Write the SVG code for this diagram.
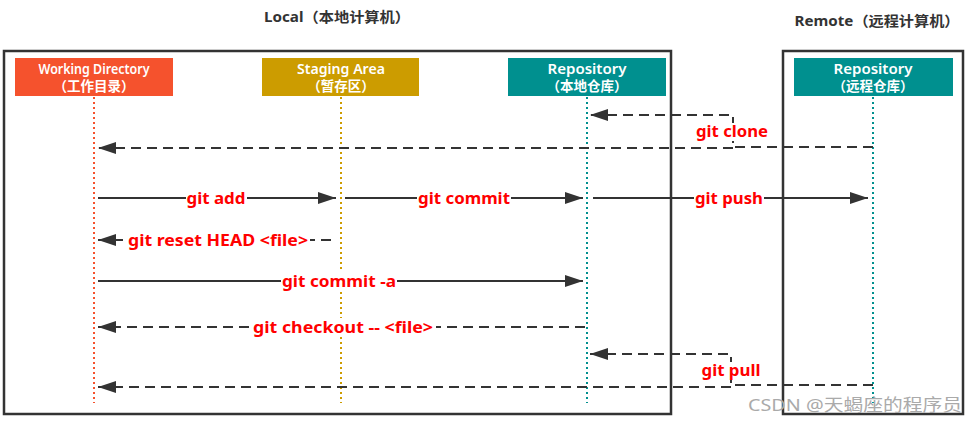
<svg xmlns="http://www.w3.org/2000/svg" width="975" height="427" viewBox="0 0 975 427">
<style>
.title{font-family:"Noto Sans","Noto Sans CJK SC",sans-serif;font-size:14px;font-weight:bold;fill:#333;text-anchor:middle}
.nt{font-family:"Noto Sans","Noto Sans CJK SC",sans-serif;font-size:13.5px;font-weight:600;fill:#fff;text-anchor:middle}
.lbl{font-family:"Noto Sans","Noto Sans CJK SC",sans-serif;font-size:16.5px;font-weight:bold;fill:#ff0000;text-anchor:middle}
.frame{fill:none;stroke:#333;stroke-width:2.5}
.life{fill:none;stroke-width:2;stroke-dasharray:2 3}
.solid{fill:none;stroke:#333;stroke-width:2}
.dash{fill:none;stroke:#333;stroke-width:2;stroke-dasharray:10 6}
.bg{fill:#fff}
</style>
<defs>
<marker id="ah" markerUnits="userSpaceOnUse" markerWidth="18" markerHeight="12" refX="18" refY="6" orient="auto">
<path d="M0,0 L18,6 L0,12 z" fill="#333"/>
</marker>
</defs>
<text class="title" x="337" y="22" textLength="146" lengthAdjust="spacingAndGlyphs">Local（本地计算机）</text>
<text class="title" x="877" y="26" textLength="165" lengthAdjust="spacingAndGlyphs">Remote（远程计算机）</text>
<rect class="frame" x="4" y="51" width="667" height="363"/>
<rect class="frame" x="783" y="51" width="180" height="363"/>
<g id="lifelines">
<line class="life" stroke="#f5522d" x1="94" y1="97" x2="94" y2="403"/>
<line class="life" stroke="#cc9c00" x1="341" y1="97" x2="341" y2="403"/>
<line class="life" stroke="#00908f" x1="587" y1="97" x2="587" y2="403"/>
<line class="life" stroke="#00908f" x1="873" y1="97" x2="873" y2="403"/>
</g>
<g id="node-working">
<rect x="15" y="58" width="158" height="38" fill="#f5522d"/>
<text class="nt" x="94" y="74" textLength="111" lengthAdjust="spacingAndGlyphs">Working Directory</text>
<text class="nt" x="94" y="91">（工作目录）</text>
</g>
<g id="node-staging">
<rect x="262" y="58" width="157" height="38" fill="#cc9c00"/>
<text class="nt" x="341" y="74" textLength="88" lengthAdjust="spacingAndGlyphs">Staging Area</text>
<text class="nt" x="341" y="91">（暂存区）</text>
</g>
<g id="node-local-repo">
<rect x="508" y="58" width="158" height="38" fill="#00908f"/>
<text class="nt" x="587" y="74" textLength="79" lengthAdjust="spacingAndGlyphs">Repository</text>
<text class="nt" x="587" y="91">（本地仓库）</text>
</g>
<g id="node-remote-repo">
<rect x="794" y="58" width="159" height="38" fill="#00908f"/>
<text class="nt" x="873" y="74" textLength="79" lengthAdjust="spacingAndGlyphs">Repository</text>
<text class="nt" x="873" y="91">（远程仓库）</text>
</g>
<g id="connectors">
<polyline class="dash" points="873,147 733,147 733,115 590,115" marker-end="url(#ah)"/>
<line class="dash" x1="733" y1="148" x2="98" y2="148" marker-end="url(#ah)"/>
<line class="solid" x1="98" y1="198" x2="336" y2="198" marker-end="url(#ah)"/>
<line class="solid" x1="345" y1="198" x2="583" y2="198" marker-end="url(#ah)"/>
<line class="solid" x1="593" y1="198" x2="868" y2="198" marker-end="url(#ah)"/>
<line class="dash" x1="331" y1="240" x2="98" y2="240" marker-end="url(#ah)"/>
<line class="solid" x1="98" y1="281" x2="583" y2="281" marker-end="url(#ah)"/>
<line class="dash" x1="585" y1="327" x2="98" y2="327" marker-end="url(#ah)"/>
<polyline class="dash" points="873,385 731,385 731,354 590,354" marker-end="url(#ah)"/>
<line class="dash" x1="731" y1="387" x2="98" y2="387" marker-end="url(#ah)"/>
</g>
<g id="labels">
<rect class="bg" x="186" y="189" width="61" height="18"/>
<text class="lbl" x="216" y="204" textLength="59" lengthAdjust="spacingAndGlyphs">git add</text>
<rect class="bg" x="417" y="189" width="94" height="18"/>
<text class="lbl" x="464" y="204" textLength="92" lengthAdjust="spacingAndGlyphs">git commit</text>
<rect class="bg" x="694" y="189" width="70" height="18"/>
<text class="lbl" x="729" y="204" textLength="68" lengthAdjust="spacingAndGlyphs">git push</text>
<rect class="bg" x="695" y="123" width="74" height="18"/>
<text class="lbl" x="732" y="137" textLength="72" lengthAdjust="spacingAndGlyphs">git clone</text>
<rect class="bg" x="126" y="231" width="184" height="18"/>
<text class="lbl" x="218" y="246" textLength="180" lengthAdjust="spacingAndGlyphs">git reset HEAD &lt;file&gt;</text>
<rect class="bg" x="281" y="272" width="116" height="18"/>
<text class="lbl" x="339" y="287" textLength="114" lengthAdjust="spacingAndGlyphs">git commit -a</text>
<rect class="bg" x="250" y="318" width="186" height="18"/>
<text class="lbl" x="343" y="333" textLength="180" lengthAdjust="spacingAndGlyphs">git checkout -- &lt;file&gt;</text>
<rect class="bg" x="700" y="362" width="62" height="18"/>
<text class="lbl" x="731" y="376" textLength="59" lengthAdjust="spacingAndGlyphs">git pull</text>
</g>
<text x="855" y="411" font-family="Noto Sans,'Noto Sans CJK SC',sans-serif" font-size="17" fill="#aaa" text-anchor="middle" textLength="214" lengthAdjust="spacingAndGlyphs">CSDN @天蝎座的程序员</text>
</svg>
